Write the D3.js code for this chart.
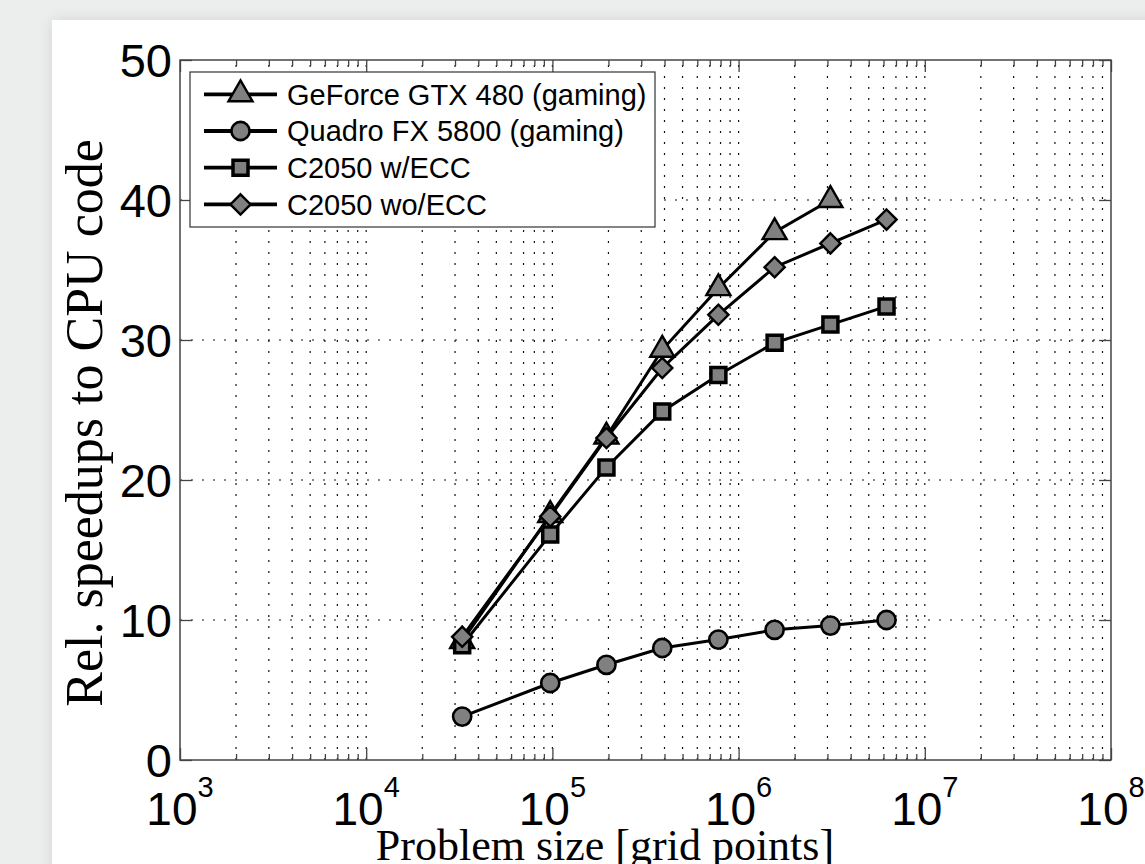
<!DOCTYPE html>
<html>
<head>
<meta charset="utf-8">
<script src="https://cdn.jsdelivr.net/npm/d3@7"></script>
<style>
  html, body { margin: 0; padding: 0; width: 1145px; height: 864px; overflow: hidden; background: #eceeee; }
  #card { position: absolute; left: 52px; top: 20px; width: 1200px; height: 900px; background: #ffffff;
          box-shadow: 0 0 14px rgba(0,0,0,0.10); }
  svg { position: absolute; left: 0; top: 0; }
</style>
</head>
<body>
<div id="card"></div>
<svg id="chart" width="1145" height="864"></svg>
<script>
// ---- data ----
const gridPoints   = [32768, 97336, 195112, 389017, 778688, 1560896, 3112136, 6229504];
const gtx480       = [8.5, 17.5, 23.1, 29.3, 33.7, 37.7, 40.0];
const quadroFX5800 = [3.1, 5.5, 6.8, 8.0, 8.6, 9.3, 9.6, 10.0];
const c2050ECC     = [8.2, 16.1, 20.9, 24.9, 27.5, 29.8, 31.1, 32.4];
const c2050noECC   = [8.8, 17.4, 23.0, 28.0, 31.8, 35.2, 36.9, 38.6];
const seriesNames  = ["GeForce GTX 480 (gaming)", "Quadro FX 5800 (gaming)", "C2050 w/ECC", "C2050 wo/ECC"];
const xMajorTicks  = [1e3, 1e4, 1e5, 1e6, 1e7, 1e8];
const xTickExps    = ["3", "4", "5", "6", "7", "8"];
const yTicks       = [0, 10, 20, 30, 40, 50];
const xTitle = "Problem size [grid points]";
const yTitle = "Rel. speedups to CPU code";

// ---- layout ----
const L = 180, R = 1111, T = 60, B = 760;
const svg = d3.select("#chart");
const x = d3.scaleLog().domain([1e3, 1e8]).range([L, R]);
const y = d3.scaleLinear().domain([0, 50]).range([B, T]);

const minorTicks = [];
for (let e = 3; e < 8; e++) for (let m = 2; m <= 9; m++) minorTicks.push(m * Math.pow(10, e));
const allVTicks = minorTicks.concat(xMajorTicks.slice(1, -1));

// grid
const grid = svg.append("g").attr("stroke", "#111").attr("stroke-width", 1.2).attr("stroke-dasharray", "2,9");
grid.selectAll("line.v").data(allVTicks).join("line")
  .attr("x1", d => x(d)).attr("x2", d => x(d)).attr("y1", B).attr("y2", T);
grid.selectAll("line.h").data(yTicks.slice(1, -1)).join("line")
  .attr("x1", L).attr("x2", R).attr("y1", d => y(d)).attr("y2", d => y(d));

// ticks (inward) using d3 axes
const axisColor = "#444";
function styleAxis(g) {
  g.select(".domain").remove();
  g.selectAll(".tick line").attr("stroke", axisColor).attr("stroke-width", 1.3);
  g.selectAll(".tick text").remove();
}
svg.append("g").attr("transform", `translate(0,${B})`)
  .call(d3.axisBottom(x).tickValues(xMajorTicks).tickSize(-12).tickFormat("")).call(styleAxis);
svg.append("g").attr("transform", `translate(0,${B})`)
  .call(d3.axisBottom(x).tickValues(minorTicks).tickSize(-6).tickFormat("")).call(styleAxis);
svg.append("g").attr("transform", `translate(0,${T})`)
  .call(d3.axisTop(x).tickValues(xMajorTicks).tickSize(-12).tickFormat("")).call(styleAxis);
svg.append("g").attr("transform", `translate(0,${T})`)
  .call(d3.axisTop(x).tickValues(minorTicks).tickSize(-6).tickFormat("")).call(styleAxis);
svg.append("g").attr("transform", `translate(${L},0)`)
  .call(d3.axisLeft(y).tickValues(yTicks).tickSize(-12).tickFormat("")).call(styleAxis);
svg.append("g").attr("transform", `translate(${R},0)`)
  .call(d3.axisRight(y).tickValues(yTicks).tickSize(-12).tickFormat("")).call(styleAxis);

// box
svg.append("rect").attr("x", L).attr("y", T).attr("width", R - L).attr("height", B - T)
  .attr("fill", "none").attr("stroke", axisColor).attr("stroke-width", 1.5);

// tick labels
const sans = "'Liberation Sans', Arial, sans-serif";
svg.append("g").selectAll("text").data(yTicks).join("text")
  .attr("x", 172).attr("y", d => y(d)).attr("dy", "0.36em")
  .attr("text-anchor", "end").attr("font-family", sans).attr("font-size", 47).attr("fill", "#000")
  .text(d => d);
const xl = svg.append("g").selectAll("text").data(xMajorTicks).join("text")
  .attr("x", d => x(d)).attr("y", 825).attr("text-anchor", "middle")
  .attr("font-family", sans).attr("font-size", 46).attr("fill", "#000");
xl.append("tspan").text("10");
xl.append("tspan").attr("dy", -28).attr("font-size", 29).text((d, i) => xTickExps[i]);

// axis titles
const serif = "'Liberation Serif', 'Times New Roman', serif";
svg.append("text").attr("x", 605).attr("y", 860).attr("text-anchor", "middle")
  .attr("font-family", serif).attr("font-size", 44).attr("fill", "#000").text(xTitle);
svg.append("text").attr("transform", "translate(102,423) rotate(-90)").attr("text-anchor", "middle")
  .attr("font-family", serif).attr("font-size", 52).attr("fill", "#000").text(yTitle);

// series
const series = [
  { name: seriesNames[0], values: gtx480,       sym: d3.symbolTriangle, size: 250, sw: 2.4 },
  { name: seriesNames[1], values: quadroFX5800, sym: d3.symbolCircle,   size: 260, sw: 2.6 },
  { name: seriesNames[2], values: c2050ECC,     sym: d3.symbolSquare,   size: 225, sw: 3.5 },
  { name: seriesNames[3], values: c2050noECC,   sym: d3.symbolDiamond2, size: 260, sw: 2.4 }
];
const fill = "#808080";
const line = d3.line().x(d => x(d[0])).y(d => y(d[1]));
series.forEach(s => {
  const pts = s.values.map((v, i) => [gridPoints[i], v]);
  const g = svg.append("g");
  g.append("path").attr("d", line(pts)).attr("fill", "none").attr("stroke", "#000").attr("stroke-width", 3);
  g.selectAll("path.m").data(pts).join("path")
    .attr("transform", d => `translate(${x(d[0])},${y(d[1])})`)
    .attr("d", d3.symbol(s.sym, s.size)())
    .attr("fill", fill).attr("stroke", "#000").attr("stroke-width", s.sw).attr("stroke-linejoin", "miter");
});

// legend
const lg = svg.append("g");
lg.append("rect").attr("x", 190).attr("y", 72).attr("width", 465).attr("height", 155)
  .attr("fill", "#fff").attr("stroke", "#333").attr("stroke-width", 1.2);
series.forEach((s, i) => {
  const ry = 94.3 + i * 36.7;
  lg.append("line").attr("x1", 204).attr("x2", 277).attr("y1", ry).attr("y2", ry)
    .attr("stroke", "#000").attr("stroke-width", 3.8);
  lg.append("path").attr("transform", `translate(240.5,${ry})`).attr("d", d3.symbol(s.sym, s.size)())
    .attr("fill", fill).attr("stroke", "#000").attr("stroke-width", s.sw);
  lg.append("text").attr("x", 287).attr("y", ry + 10.2).attr("font-family", sans).attr("font-size", 29)
    .attr("fill", "#000").text(s.name);
});
</script>
</body>
</html>
